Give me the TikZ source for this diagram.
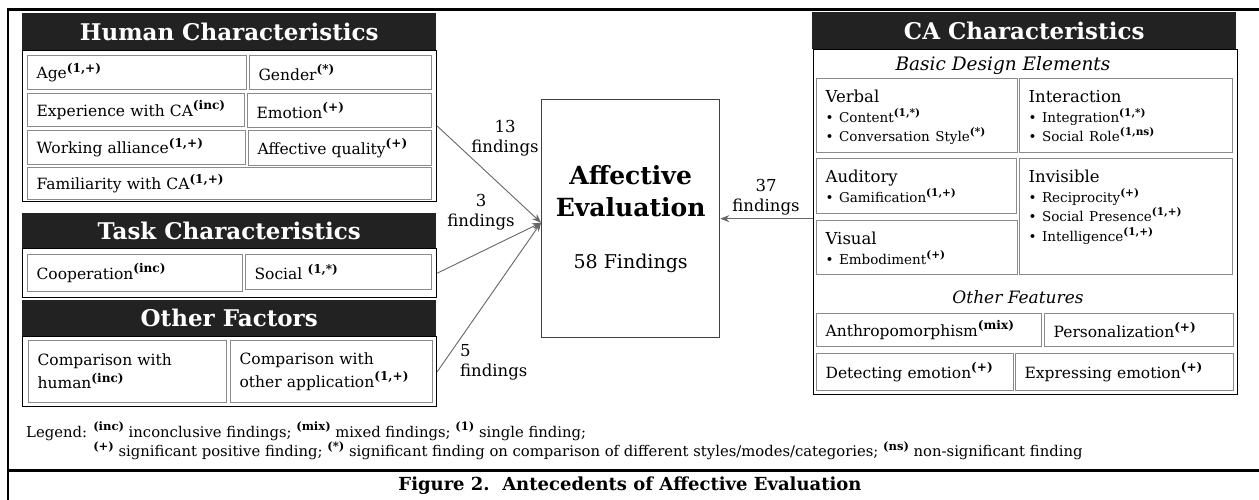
\documentclass[tikz,border=0pt]{standalone}
\usepackage{fontspec}
\setmainfont{DejaVu Serif}
\usetikzlibrary{arrows.meta,positioning}

\definecolor{barblack}{HTML}{222222}
\definecolor{cellgray}{HTML}{8A8A8A}
\makeatletter
\newcommand{\findtag}[1]{\raisebox{0.42em}{\fontsize{\fpeval{0.78*\f@size}}{0}\selectfont\bfseries(#1)}}
\makeatother
\newcommand{\fsz}[2]{\fontsize{#1}{#2}\selectfont}

\tikzset{
  groupbar/.style={fill=barblack, text=white, anchor=north west, inner sep=0pt, font=\fsz{23}{28}\bfseries},
  groupbox/.style={draw=black, line width=1.3pt, anchor=north west, inner sep=0pt},
  cell/.style={draw=cellgray, line width=1.2pt, anchor=north west, inner xsep=9pt, inner ysep=0pt, align=left, font=\fsz{15.5}{23}},
  topcell/.style={cell, text height=24pt, font=\fsz{16.5}{19.5}},
  sub/.style={font=\fsz{17}{20}\itshape, inner sep=0pt},
  finding/.style={-{Stealth[length=9pt,width=7pt]}, draw=black!60, line width=0.9pt},
  countlabel/.style={font=\fsz{16.5}{20}, align=center, inner sep=0pt},
}

\begin{document}
\begin{tikzpicture}[x=1pt,y=-1pt]
    \useasboundingbox (0,0) rectangle (1259,500);

    % Frame
    \draw[line width=3pt] (7,9.5) -- (1259,9.5);
    \draw[line width=2.5pt] (8,8) -- (8,500);
    \draw[line width=3pt] (8,470) -- (1259,470);

    % Human characteristics
    \node[groupbar, minimum width=414pt, minimum height=37pt] (humbar) at (22,13) {Human Characteristics};
    \node[groupbox, minimum width=414pt, minimum height=151pt] (humbox) at (22,50) {};
    \node[cell, text width=201pt, minimum height=34pt] (age) at (27,55) {Age\findtag{1,+}};
    \node[cell, text width=164pt, minimum height=34pt] (gender) at (249,55) {Gender\findtag{*}};
    \node[cell, text width=199pt, minimum height=33pt] (exper) at (27,93) {Experience with CA\findtag{inc}};
    \node[cell, text width=166pt, minimum height=34pt] (emotion) at (247,93) {Emotion\findtag{+}};
    \node[cell, text width=200pt, minimum height=34pt] (alliance) at (27,130) {Working alliance\findtag{1,+}};
    \node[cell, text width=165pt, minimum height=35pt] (affqual) at (248,130) {Affective quality\findtag{+}};
    \node[cell, text width=386pt, minimum height=32pt] (famil) at (27,167) {Familiarity with CA\findtag{1,+}};

    % Task characteristics
    \node[groupbar, minimum width=414pt, minimum height=35pt] (taskbar) at (22,213) {Task Characteristics};
    \node[groupbox, minimum width=414pt, minimum height=49pt] (taskbox) at (22,248) {};
    \node[cell, text width=197pt, minimum height=37pt] (coop) at (27,254) {Cooperation\findtag{inc}};
    \node[cell, text width=168pt, minimum height=35pt] (social) at (245,254) {Social \findtag{1,*}};

    % Other factors
    \node[groupbar, minimum width=414pt, minimum height=36pt] (othbar) at (22,300) {Other Factors};
    \node[groupbox, minimum width=414pt, minimum height=70pt] (othbox) at (22,336) {};
    \node[cell, text width=180pt, minimum height=62pt] (cmphuman) at (28,340) {Comparison with\\human\findtag{inc}};
    \node[cell, text width=184pt, minimum height=62pt] (cmpapp) at (230,340) {Comparison with\\other application\findtag{1,+}};

    % Affective evaluation
    \node[draw=black!75, line width=1.3pt, anchor=north west, minimum width=178pt, minimum height=238pt,
          align=center, inner sep=0pt, font=\fsz{25}{32}] (ae) at (541,99)
          {\bfseries Affective\\\bfseries Evaluation\\[20pt]{\fsz{19}{22}58 Findings}};

    % CA characteristics
    \node[groupbar, minimum width=424pt, minimum height=37pt] (cabar) at (812,12) {CA Characteristics};
    \node[groupbox, minimum width=424pt, minimum height=345pt] (cabox) at (813,49) {};
    \node[sub, font=\fsz{18.5}{20}\itshape] (basic) at (1003,66) {Basic Design Elements};
    \node[topcell, text width=183pt, text depth=50pt] (verbal) at (816,78)
          {Verbal\\{\fsz{13.5}{19.5}\textbullet\ Content\findtag{1,*}}\\{\fsz{13.5}{19.5}\textbullet\ Conversation Style\findtag{*}}};
    \node[topcell, text width=195pt, text depth=50pt] (interact) at (1019,78)
          {Interaction\\{\fsz{13.5}{19.5}\textbullet\ Integration\findtag{1,*}}\\{\fsz{13.5}{19.5}\textbullet\ Social Role\findtag{1,ns}}};
    \node[topcell, text width=182pt, text depth=31pt] (auditory) at (816,158)
          {Auditory\\{\fsz{13.5}{19.5}\textbullet\ Gamification\findtag{1,+}}};
    \node[topcell, text width=195pt, text depth=92pt] (invisible) at (1019,158)
          {Invisible\\{\fsz{13.5}{19.5}\textbullet\ Reciprocity\findtag{+}}\\{\fsz{13.5}{19.5}\textbullet\ Social Presence\findtag{1,+}}\\{\fsz{13.5}{19.5}\textbullet\ Intelligence\findtag{1,+}}};
    \node[topcell, text width=183pt, text depth=30pt] (visual) at (816,220)
          {Visual\\{\fsz{13.5}{19.5}\textbullet\ Embodiment\findtag{+}}};
    \node[sub] (otherfeat) at (1018,297) {Other Features};
    \node[cell, text width=207pt, minimum height=33pt] (anthro) at (816,313) {Anthropomorphism\findtag{mix}};
    \node[cell, text width=171pt, minimum height=33pt] (personal) at (1044,313) {Personalization\findtag{+}};
    \node[cell, text width=179pt, minimum height=37pt] (detect) at (816,353) {Detecting emotion\findtag{+}};
    \node[cell, text width=200pt, minimum height=37pt] (express) at (1015,353) {Expressing emotion\findtag{+}};

    % Findings per antecedent group
    \draw[finding] (humbox.east) -- ([yshift=-4pt]ae.west);
    \draw[finding] (taskbox.east) -- ([yshift=-4pt]ae.west);
    \draw[finding] (othbox.east) -- ([yshift=-4pt]ae.west);
    \draw[finding] (cabox.west |- ae.east) -- (ae.east);
    \node[countlabel] (n13) at (505,138) {13\\findings};
    \node[countlabel] (n3) at (481,212) {3\\findings};
    \node[countlabel, align=left, anchor=west] (n5) at (460,362) {5\\findings};
    \node[countlabel] (n37) at (766,197) {37\\findings};

    % Legend and caption
    \node[anchor=west, align=left, inner sep=0pt, font=\fsz{14.8}{16}] (legend) at (26,441)
          {Legend: \findtag{inc} inconclusive findings; \findtag{mix} mixed findings; \findtag{1} single finding;\\
           \phantom{Legend: }\findtag{+} significant positive finding; \findtag{*} significant finding on comparison of different styles/modes/categories; \findtag{ns} non-significant finding};
    \node[font=\fsz{18}{20}\bfseries, inner sep=0pt] (caption) at (630,486) {Figure 2.\ \ Antecedents of Affective Evaluation};
\end{tikzpicture}
\end{document}
